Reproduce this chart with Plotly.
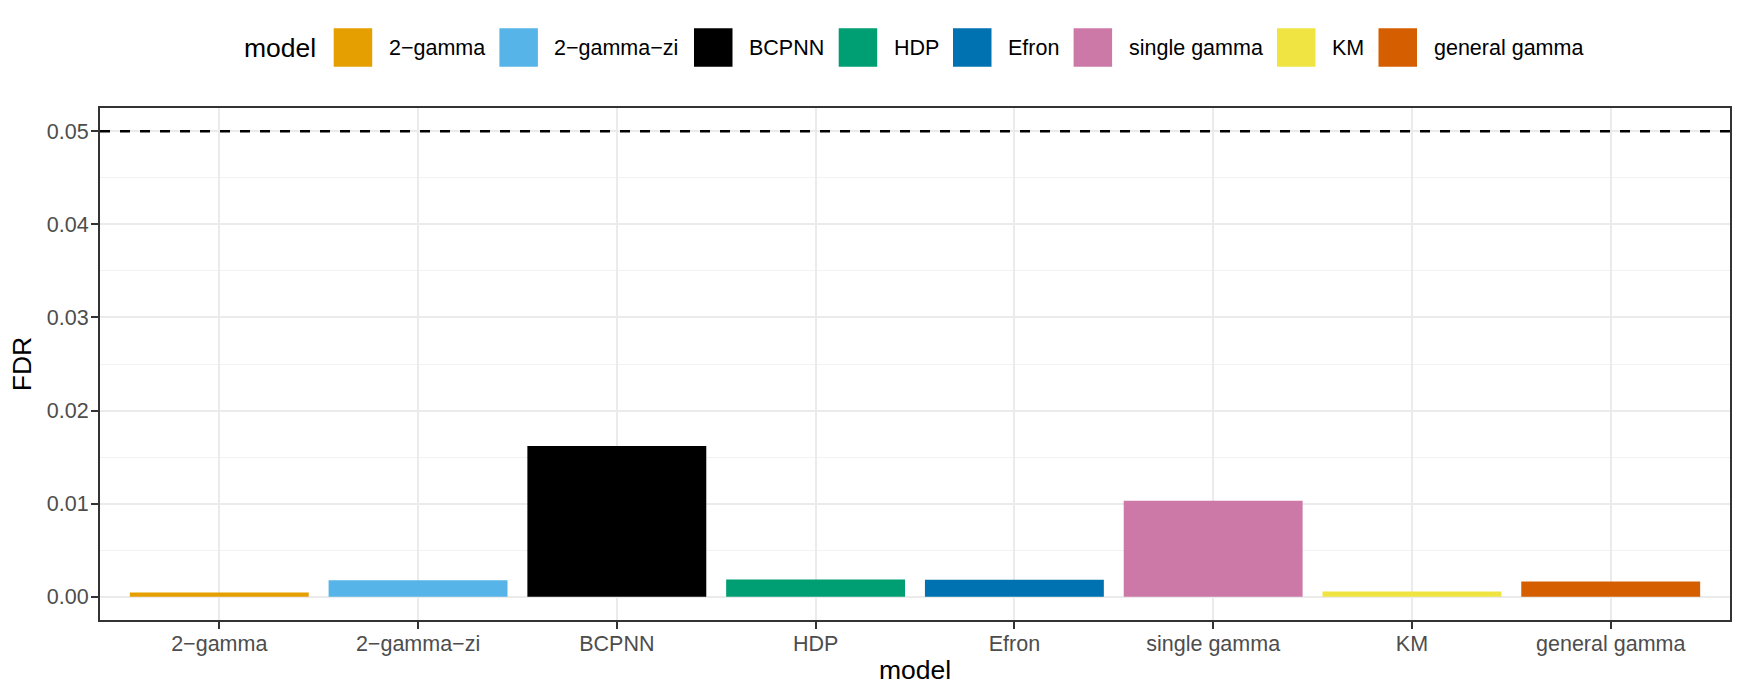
import plotly.graph_objects as go

# ---- data ----
models = ["2-gamma", "2-gamma-zi", "BCPNN", "HDP", "Efron", "single gamma", "KM", "general gamma"]
labels = [m.replace("-", "\u2212") for m in models]
fdr = [0.00046, 0.00178, 0.0162, 0.00185, 0.00183, 0.0103, 0.00057, 0.00164]
colors = ["#E69F00", "#56B4E9", "#000000", "#009E73", "#0072B2", "#CC79A7", "#F0E442", "#D55E00"]
threshold = 0.05
y_ticks = [0.00, 0.01, 0.02, 0.03, 0.04, 0.05]

# ---- layout constants ----
W, H = 1743, 698
L, R, T, B = 100, 13, 108, 78
FONT = "Liberation Sans, Arial, Helvetica, sans-serif"

fig = go.Figure()
fig.add_trace(go.Bar(
    x=labels, y=fdr, width=0.9,
    marker=dict(color=colors, line=dict(width=0)),
    showlegend=False, hoverinfo="x+y",
))

# dashed threshold line
fig.add_hline(y=threshold, line=dict(color="black", width=2.6, dash="10px,10px"), layer="above")

ymin, ymax = 0.0, threshold
pad = (ymax - ymin) * 0.05

fig.update_layout(
    width=W, height=H,
    margin=dict(l=L, r=R, t=T, b=B, autoexpand=False),
    paper_bgcolor="white", plot_bgcolor="white",
    font=dict(family=FONT, color="#4D4D4D", size=21.5),
    bargap=0.1,
)
fig.update_xaxes(
    range=[-0.6, len(models) - 0.4],
    showgrid=True, gridcolor="#EBEBEB", gridwidth=2.4,
    ticks="outside", ticklen=7, tickwidth=2, tickcolor="#333333",
    ticklabelstandoff=-4,
    tickfont=dict(family=FONT, size=21.5, color="#4D4D4D"),
    showline=True, linecolor="#333333", linewidth=2, mirror=True,
    zeroline=False, automargin=False,
    title=dict(text="model", font=dict(family=FONT, size=26.5, color="black"), standoff=6),
)
fig.update_yaxes(
    range=[ymin - pad, ymax + pad],
    tickvals=y_ticks, ticktext=[f"{v:.2f}" for v in y_ticks],
    showgrid=True, gridcolor="#EBEBEB", gridwidth=2.4,
    minor=dict(dtick=0.005, tick0=0, showgrid=True, gridcolor="#F2F2F2", gridwidth=1.2, ticks=""),
    ticks="outside", ticklen=7, tickwidth=2, tickcolor="#333333",
    ticklabelstandoff=-2,
    tickfont=dict(family=FONT, size=21.5, color="#4D4D4D"),
    showline=True, linecolor="#333333", linewidth=2, mirror=True,
    zeroline=False, automargin=False,
    title=dict(text="FDR", font=dict(family=FONT, size=26.5, color="black"), standoff=8),
)

# ---- manual legend (ggplot style, on top) ----
key_left_px = [333.7, 499.4, 694.0, 838.7, 953.0, 1073.6, 1277.0, 1378.5]
key_size = 38.5
key_top_px, key_bot_px = 28.3, 66.8
key_cy = (key_top_px + key_bot_px) / 2
for kx, lab, col in zip(key_left_px, labels, colors):
    fig.add_shape(
        type="rect", xref="paper", yref="paper",
        xsizemode="pixel", ysizemode="pixel", xanchor=0, yanchor=1,
        x0=kx - L, x1=kx - L + key_size,
        y0=T - key_bot_px, y1=T - key_top_px,
        fillcolor=col, line=dict(width=0),
    )
    fig.add_annotation(
        x=0, y=1, xref="paper", yref="paper",
        xanchor="left", yanchor="middle",
        xshift=kx + key_size + 14.5 - L, yshift=T - key_cy,
        text=lab, showarrow=False,
        font=dict(family=FONT, size=21.5, color="black"),
    )
fig.add_annotation(
    x=0, y=1, xref="paper", yref="paper",
    xanchor="right", yanchor="middle",
    xshift=key_left_px[0] - 15.5 - L, yshift=T - key_cy,
    text="model", showarrow=False,
    font=dict(family=FONT, size=26.5, color="black"),
)

fig.write_html(
    "out.html",
    config={"displayModeBar": False},
    post_script="document.body.style.margin='0';document.body.style.padding='0';document.body.style.overflow='hidden';",
)
